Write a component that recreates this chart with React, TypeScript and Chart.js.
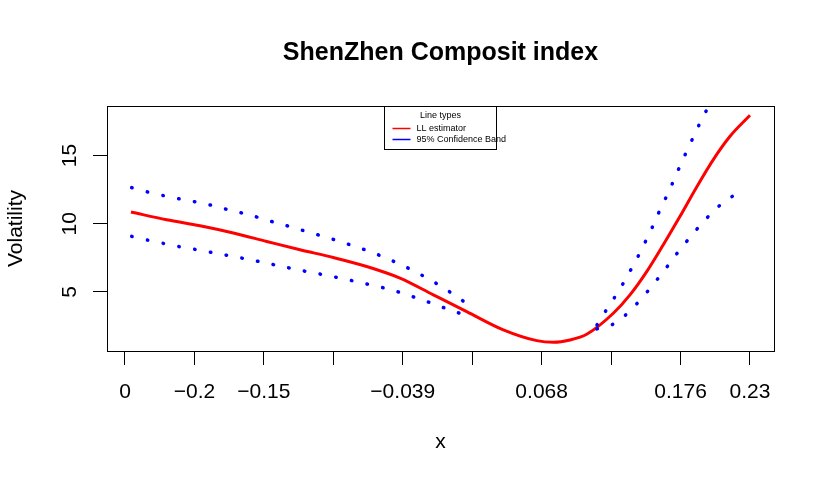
import { useEffect, useRef } from 'react';
import { Chart, registerables } from 'chart.js';

Chart.register(...registerables);

const chartTitle = 'ShenZhen Composit index';
const xAxisTitle = 'x';
const yAxisTitle = 'Volatility';

// x ticks are evenly spaced, R dropped the labels that would overlap
const xTickPositions = [0, 1, 2, 3, 4, 5, 6, 7, 8, 9];
const xTickLabels = ['0', '\u22120.2', '\u22120.15', '', '\u22120.039', '', '0.068', '', '0.176', '0.23'];
const yTickValues = [5, 10, 15];
const yTickLabels = ['5', '10', '15'];

const legendTitle = 'Line types';
const legendLabels = ['LL estimator', '95% Confidence Band'];
const legendColors = ['#FF0000', '#0000FF'];

// [x, y]
const llEstimator = [
  [0.086, 10.86], [0.6, 10.29], [1.08, 9.85], [1.56, 9.32], [2.041, 8.7],
  [2.52, 8.09], [3.0, 7.52], [3.481, 6.86], [3.96, 6.01], [4.44, 4.78],
  [4.921, 3.55], [5.448, 2.21], [5.929, 1.42], [6.168, 1.3], [6.408, 1.47],
  [6.649, 1.89], [7.032, 3.43], [7.272, 4.78], [7.513, 6.49], [7.752, 8.46],
  [7.993, 10.54], [8.233, 12.7], [8.472, 14.71], [8.713, 16.42], [9.0, 17.96],
];

const bandUpperLeft = [
  [0.097, 12.65], [0.327, 12.33], [0.557, 12.06], [0.788, 11.82], [1.018, 11.6],
  [1.249, 11.35], [1.473, 11.05], [1.704, 10.76], [1.934, 10.44], [2.156, 10.1],
  [2.386, 9.78], [2.611, 9.43], [2.837, 9.1], [3.063, 8.75], [3.288, 8.38],
  [3.509, 7.99], [3.73, 7.55], [3.946, 7.06], [4.158, 6.54], [4.363, 5.98],
  [4.565, 5.37], [4.762, 4.71], [4.954, 4.02],
];

const bandLowerLeft = [
  [0.097, 9.07], [0.327, 8.8], [0.557, 8.55], [0.788, 8.31], [1.018, 8.11],
  [1.249, 7.89], [1.479, 7.67], [1.709, 7.45], [1.944, 7.21], [2.175, 6.96],
  [2.405, 6.71], [2.635, 6.47], [2.866, 6.25], [3.096, 6.01], [3.327, 5.76],
  [3.557, 5.49], [3.783, 5.22], [4.008, 4.88], [4.234, 4.49], [4.454, 4.1],
  [4.676, 3.68], [4.901, 3.29],
];

const bandUpperRight = [
  [6.797, 2.57], [6.923, 3.6], [7.052, 4.61], [7.176, 5.64], [7.291, 6.69],
  [7.402, 7.74], [7.507, 8.82], [7.608, 9.9], [7.704, 11.01], [7.805, 12.08],
  [7.902, 13.18], [7.997, 14.29], [8.093, 15.37], [8.194, 16.47], [8.294, 17.55],
  [8.4, 18.58],
];

const bandLowerRight = [
  [6.797, 2.28], [7.018, 2.6], [7.211, 3.31], [7.378, 4.17], [7.532, 5.07],
  [7.68, 6.01], [7.824, 6.96], [7.964, 7.92], [8.112, 8.85], [8.266, 9.78],
  [8.424, 10.66], [8.597, 11.49], [8.788, 12.15],
];

const toPoints = (rows: number[][]) => rows.map(([x, y]) => ({ x, y }));

const FONT = '"Liberation Sans", Arial, Helvetica, sans-serif';

const boxAndLegend = {
  id: 'boxAndLegend',
  afterDraw(chart: Chart) {
    const { ctx, chartArea: a } = chart;
    ctx.save();
    ctx.strokeStyle = '#000';
    ctx.lineWidth = 1;
    ctx.strokeRect(
      Math.round(a.left) + 0.5,
      Math.round(a.top) + 0.5,
      Math.round(a.right - a.left),
      Math.round(a.bottom - a.top),
    );

    const w = 112;
    const h = 43;
    const lx = Math.floor((a.left + a.right) / 2 - w / 2) + 0.5;
    const ly = Math.round(a.top) + 0.5;
    ctx.strokeRect(lx, ly, w, h);

    ctx.fillStyle = '#000';
    ctx.font = `9px ${FONT}`;
    ctx.textBaseline = 'middle';
    ctx.textAlign = 'center';
    ctx.fillText(legendTitle, lx + w / 2, ly + 9);

    ctx.textAlign = 'left';
    legendLabels.forEach((label, i) => {
      const y = ly + 22 + i * 11;
      ctx.strokeStyle = legendColors[i];
      ctx.lineWidth = 1.5;
      ctx.beginPath();
      ctx.moveTo(lx + 8, y);
      ctx.lineTo(lx + 26, y);
      ctx.stroke();
      ctx.fillStyle = '#000';
      ctx.fillText(label, lx + 32, y);
    });
    ctx.restore();
  },
};

const dotted = {
  borderColor: '#0000FF',
  borderWidth: 3.5,
  borderDash: [0.5, 15.5],
  borderCapStyle: 'round' as const,
  pointRadius: 0,
  tension: 0.2,
  fill: false,
};

export default function App() {
  const canvasRef = useRef<HTMLCanvasElement>(null);
  const chartRef = useRef<Chart | null>(null);

  useEffect(() => {
    if (!canvasRef.current) return;
    if (chartRef.current) chartRef.current.destroy();

    Chart.defaults.font.family = FONT;
    Chart.defaults.color = '#000';

    chartRef.current = new Chart(canvasRef.current, {
      type: 'line',
      data: {
        datasets: [
          { ...dotted, label: legendLabels[1], data: toPoints(bandUpperLeft) },
          { ...dotted, label: legendLabels[1], data: toPoints(bandLowerLeft) },
          { ...dotted, label: legendLabels[1], data: toPoints(bandUpperRight) },
          { ...dotted, label: legendLabels[1], data: toPoints(bandLowerRight) },
          {
            label: legendLabels[0],
            data: toPoints(llEstimator),
            borderColor: '#FF0000',
            borderWidth: 3,
            pointRadius: 0,
            cubicInterpolationMode: 'monotone',
            fill: false,
          },
        ],
      },
      options: {
        animation: false,
        responsive: true,
        maintainAspectRatio: false,
        events: [],
        layout: { padding: { left: 0, right: 56, top: 0, bottom: 0 } },
        scales: {
          x: {
            type: 'linear',
            min: -0.259,
            max: 9.346,
            afterBuildTicks: (scale: any) => {
              scale.ticks = xTickPositions.map((value) => ({ value }));
            },
            afterFit: (scale: any) => {
              scale.height = 134;
            },
            border: { display: false },
            grid: {
              drawOnChartArea: false,
              drawTicks: true,
              tickLength: 14,
              color: '#000',
              tickColor: '#000',
            },
            ticks: {
              autoSkip: false,
              maxRotation: 0,
              padding: 15,
              font: { size: 21 },
              color: '#000',
              callback: (_v: any, i: number) => xTickLabels[i],
            },
            title: {
              display: true,
              text: xAxisTitle,
              font: { size: 21 },
              color: '#000',
              padding: { top: 0, bottom: 30 },
            },
          },
          y: {
            type: 'linear',
            min: 0.66,
            max: 18.64,
            afterBuildTicks: (scale: any) => {
              scale.ticks = yTickValues.map((value) => ({ value }));
            },
            afterFit: (scale: any) => {
              scale.width = 107;
            },
            border: { display: false },
            grid: {
              drawOnChartArea: false,
              drawTicks: true,
              tickLength: 14,
              color: '#000',
              tickColor: '#000',
            },
            ticks: {
              autoSkip: false,
              minRotation: 90,
              maxRotation: 90,
              crossAlign: 'center',
              padding: 11,
              font: { size: 21 },
              color: '#000',
              callback: (_v: any, i: number) => yTickLabels[i],
            },
            title: {
              display: true,
              text: yAxisTitle,
              font: { size: 21 },
              color: '#000',
              padding: { top: 4, bottom: 0 },
            },
          },
        },
        plugins: {
          legend: { display: false },
          tooltip: { enabled: false },
          title: {
            display: true,
            fullSize: false, // centre over the plot region, as R does
            text: chartTitle,
            color: '#000',
            font: { size: 25, weight: 'bold', lineHeight: 1.2 },
            padding: { top: 38, bottom: 38 },
          },
        },
      },
      plugins: [boxAndLegend],
    });

    return () => {
      chartRef.current?.destroy();
      chartRef.current = null;
    };
  }, []);

  return (
    <div style={{ position: 'absolute', left: 0, top: 0, width: 830, height: 485 }}>
      <canvas ref={canvasRef} />
    </div>
  );
}
